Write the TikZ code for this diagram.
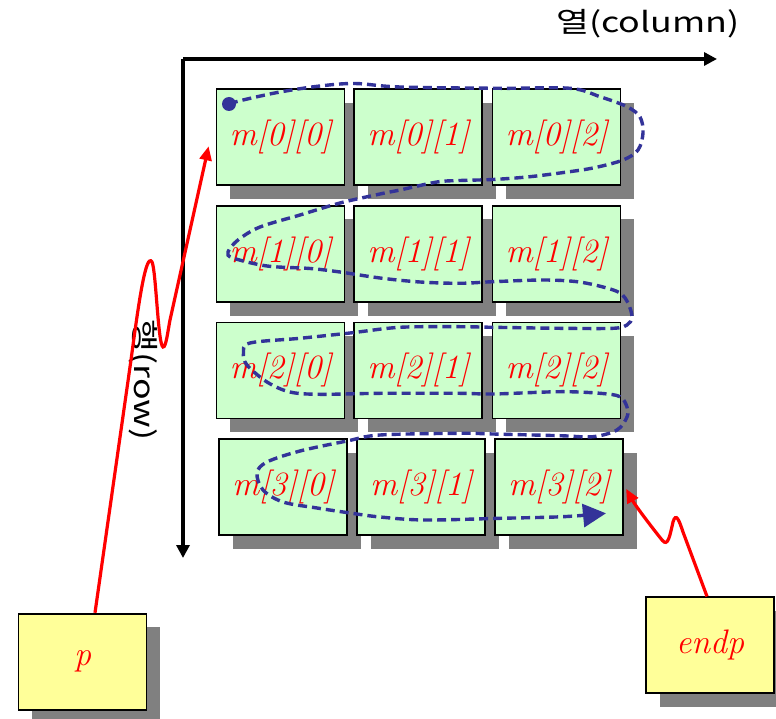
\documentclass[tikz,border=0pt]{standalone}
\usepackage{fontspec}
\usepackage{graphicx}
\newfontfamily\krfont{Noto Sans CJK KR}
\usetikzlibrary{arrows.meta,shadows,calc}
\definecolor{cellgreen}{HTML}{CCFFCC}
\definecolor{ptryellow}{HTML}{FFFF99}
\definecolor{shadowgray}{HTML}{808080}
\definecolor{pathblue}{HTML}{333399}
\begin{document}
\begin{tikzpicture}[x=1pt,y=-1pt,
  boxbase/.style={draw=black, line width=1.8pt, minimum width=128pt, minimum height=96pt,
    inner sep=0pt, text=red, font=\fontsize{34}{40}\selectfont\itshape,
    drop shadow={shadow xshift=13.5pt, shadow yshift=-13.5pt, fill=shadowgray, opacity=1}},
  cell/.style={boxbase, fill=cellgreen},
  ptrbox/.style={boxbase, fill=ptryellow},
  axis/.style={line width=3.2pt, -{Triangle[length=13pt,width=13pt]}},
  redarrow/.style={draw=red, line width=3.2pt, -{Triangle[length=14pt,width=12pt]}},
  snake/.style={draw=pathblue, line width=3.4pt, dash pattern=on 9pt off 5pt,
    -{Triangle[length=23pt,width=23pt]}},
  krlabel/.style={font=\krfont\fontsize{28}{32}\selectfont, inner sep=0pt}
]
\useasboundingbox (0,0) rectangle (776,719);

% axes
\coordinate (origin) at (183,59);
\coordinate (xend) at (717,59);
\coordinate (yend) at (183,558);
\draw[axis] (origin) -- (xend);
\draw[axis] (origin) -- (yend);
\node[krlabel] (collabel) at (648,24) {\scalebox{1.28}[1]{열(column)}};
\node[krlabel, rotate=-90] (rowlabel) at (143,380) {\scalebox{1.28}[1]{행(row)}};

% cells
\node[cell] (m00) at (280.5,137.3) {m[0][0]};
\node[cell] (m01) at (418.3,137.3) {m[0][1]};
\node[cell] (m02) at (556.5,137.3) {m[0][2]};
\node[cell] (m10) at (280.5,254) {m[1][0]};
\node[cell] (m11) at (418.3,254) {m[1][1]};
\node[cell] (m12) at (556.5,254) {m[1][2]};
\node[cell] (m20) at (280.5,370.4) {m[2][0]};
\node[cell] (m21) at (418.3,370.4) {m[2][1]};
\node[cell] (m22) at (556.5,370.4) {m[2][2]};
\node[cell] (m30) at (283.2,487.3) {m[3][0]};
\node[cell] (m31) at (421.2,487.3) {m[3][1]};
\node[cell] (m32) at (559.2,487.3) {m[3][2]};

% pointer boxes
\node[ptrbox] (p) at (82.5,661.7) {p};
\node[ptrbox] (endp) at (710,645.3) {endp};

% traversal path
\fill[pathblue] (229,104) circle (7pt);
\coordinate (startdot) at (229,104);
\coordinate (pathend) at (606,513.3);
\draw[snake] plot[smooth, tension=0.55] coordinates {
  (startdot) (243,100) (280,92) (320,86) (355,83.5) (400,87) (500,88.3) (570,88.3)
  (600,96.7) (627,106.7) (640,117) (643,133) (638,150) (623,160) (593,168)
  (560,173) (527,177) (493,179.5) (460,180.5) (437,182) (400,190) (380,194)
  (340,203) (300,215) (260,227) (238,240) (228,252) (233,258) (267,266)
  (310,268.5) (340,272) (380,278) (420,282) (460,283.3) (493,281.7) (543,280)
  (577,281.7) (603,287) (620,293) (628,303) (632,317) (627,325) (613,328.3)
  (560,328.3) (493,327.3) (460,326.7) (400,327.3) (350,333) (300,338.3)
  (250,343) (243.5,353) (247,365) (267,382) (290,392) (320,394.3) (380,393.3)
  (460,393.3) (493,394) (560,391.7) (600,393.3) (620,396.7) (627,407)
  (627,417) (617,430) (593,436.7) (560,435.7) (493,434) (460,433.3) (380,435)
  (347,441) (300,451) (267,462) (257,473) (263,490) (283,502) (317,508)
  (350,513) (380,517) (425,520) (500,518.3) (563,516.7) (pathend)};

% red pointer arrows
\draw[redarrow] ([xshift=12.5pt]p.north) -- (131,360)
  .. controls (139,300) and (146,252) .. (152,262)
  .. controls (156,270) and (158,345) .. (163,347)
  .. controls (166,348) and (168,330) .. (170,320)
  -- ([xshift=-7pt,yshift=-9pt]m00.west);
\draw[redarrow] ([xshift=-3pt]endp.north) -- (683,532)
  .. controls (679,520) and (676,512) .. (673,522)
  .. controls (670,535) and (668,548) .. (662,540)
  .. controls (650,525) and (635,505) .. ([xshift=2pt,yshift=-1.5pt]m32.east);
\end{tikzpicture}
\end{document}
